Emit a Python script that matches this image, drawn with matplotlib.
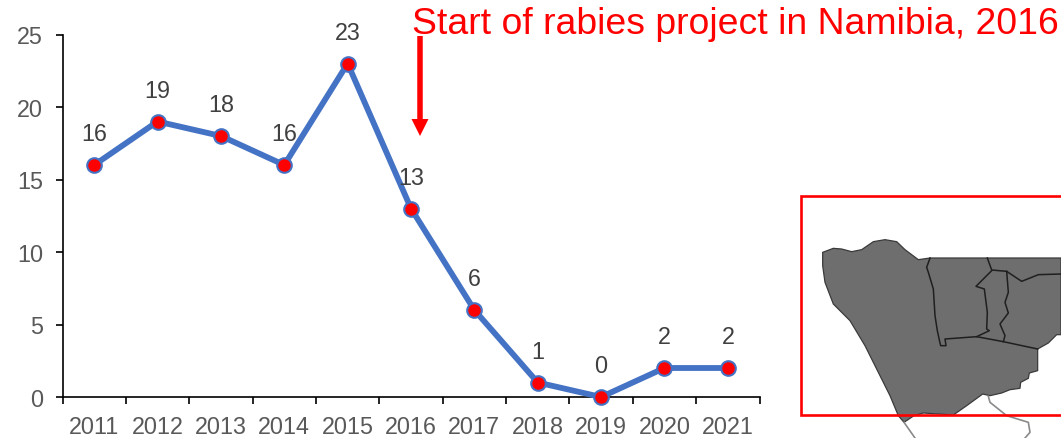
import numpy as np
import matplotlib
matplotlib.use("Agg")
import matplotlib.pyplot as plt

plt.rcParams["font.family"] = ["Liberation Sans", "DejaVu Sans"]

years = [2011, 2012, 2013, 2014, 2015, 2016, 2017, 2018, 2019, 2020, 2021]
cases = [16, 19, 18, 16, 23, 13, 6, 1, 0, 2, 2]

# map outline, in zoomed crop coordinates
region = [(98, 190), (130, 178), (155, 180), (185, 188), (215, 182), (250, 158), (285, 152), (320, 158),
          (345, 182), (385, 212), (420, 207), (813, 207), (813, 437), (800, 437), (775, 462), (743, 480),
          (743, 545), (718, 552), (715, 568), (692, 580), (690, 598), (660, 602), (635, 612), (600, 620),
          (578, 615), (530, 650), (490, 678), (400, 672), (372, 680), (342, 700), (325, 680), (300, 620),
          (270, 560), (225, 470), (180, 395), (130, 345), (105, 280), (98, 230)]
borders = [
    [(420, 207), (410, 235), (415, 250), (430, 300), (435, 380), (442, 425), (450, 462), (452, 470),
     (468, 470), (465, 450), (560, 443), (640, 458), (743, 480)],
    [(592, 207), (605, 243), (650, 247), (695, 277), (745, 257), (813, 255)],
    [(605, 245), (558, 292), (583, 300), (592, 370), (590, 420), (598, 425), (560, 443)],
    [(650, 247), (655, 310), (645, 340), (655, 372), (630, 405), (645, 440), (640, 458)],
]
outside = [
    [(595, 622), (600, 640), (650, 680), (715, 700), (720, 730), (705, 747)],
    [(342, 700), (375, 747)],
]


def crop_to_px(pts):
    a = np.array(pts, dtype=float)
    return 790 + a[:, 0] / 3, 190 + a[:, 1] / 3


W, H = 1061, 439
fig = plt.figure(figsize=(W / 100, H / 100), dpi=100)
ax = fig.add_axes([62.5 / W, 1 - 398 / H, 697 / W, 362.5 / H])

x = np.arange(len(years)) + 0.5
ax.plot(x, cases, color="#4472C4", lw=4.2, marker="o", ms=10.5, mfc="red", mec="#4472C4", mew=1.5,
        clip_on=False, zorder=5, solid_joinstyle="round")
for xi, v in zip(x, cases):
    ax.annotate(str(v), (xi, v), xytext=(0, 22.5), textcoords="offset points", ha="center", va="center",
                fontsize=16.8, color="#404040", zorder=6)

ax.set_xlim(0, len(years))
ax.set_ylim(0, 25)
ax.set_yticks([0, 5, 10, 15, 20, 25])
ax.set_xticks(np.arange(len(years) + 1))
ax.set_xticklabels([])
ax.set_xticks(x, minor=True)
ax.set_xticklabels(years, minor=True)
ax.spines["top"].set_visible(False)
ax.spines["right"].set_visible(False)
ax.tick_params(axis="y", length=5, width=1.2, labelsize=16.8, labelcolor="#595959", pad=9)
ax.tick_params(axis="x", which="major", length=5, width=1.2)
ax.tick_params(axis="x", which="minor", length=0, labelsize=16.8, labelcolor="#595959", pad=13)
ax.spines["left"].set_linewidth(1.2)
ax.spines["bottom"].set_linewidth(1.2)

# overlay in pixel coordinates for the arrow, inset and heading
ov = fig.add_axes([0, 0, 1, 1], facecolor="none")
ov.set_xlim(0, W)
ov.set_ylim(H, 0)
ov.axis("off")

ov.text(412, 24, "Start of rabies project in Namibia, 2016", color="red", fontsize=26.9, ha="left", va="center")
ov.arrow(420, 37, 0, 100, width=5.5, head_width=17, head_length=17, length_includes_head=True,
         color="red", lw=0)

for line in outside:
    ov.plot(*crop_to_px(line), color="#8a8a8a", lw=1.2)
ov.fill(*crop_to_px(region), facecolor="#6e6e6e", edgecolor="#3a3a3a", lw=0.9)
for line in borders:
    ov.plot(*crop_to_px(line), color="#1f1f1f", lw=1.1)

ov.plot([1061, 801, 801, 1061], [197, 197, 416, 416], color="red", lw=1.9, solid_joinstyle="miter")

fig.savefig("out.png", dpi=100)
